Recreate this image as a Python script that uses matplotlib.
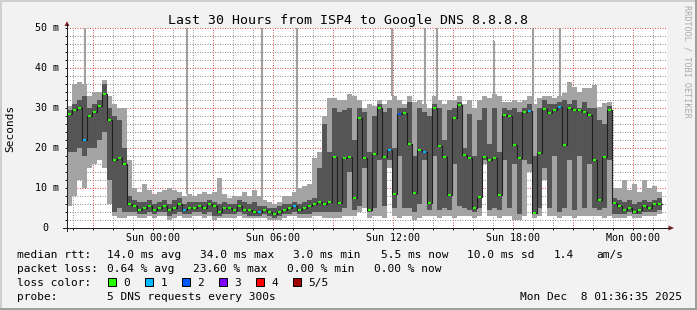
import numpy as np
import matplotlib
matplotlib.use('Agg')
import matplotlib.pyplot as plt
from matplotlib.patches import Rectangle, Polygon
from matplotlib.lines import Line2D

plt.rcParams['font.family'] = ['DejaVu Sans Mono']

W, H = 697, 310

# 15 minute steps, hours relative to Sun 00:00 (first step starts Sat 19:41)
t_start = -4.315
t_step = 0.25

# smoke: sorted pings per step (ms)
rtt_min = [
    5.5, 8, 12, 10, 15, 16, 17, 15, 6, 3,
    2.5, 2.5, 3, 3, 2.5, 2.5, 3, 2.5, 3, 3,
    2, 2.5, 3, 2.5, 2.5, 3, 3, 2.5, 3, 2,
    2.5, 2.5, 2.5, 2.5, 3, 2.5, 2.5, 2.5, 2.5, 2.5,
    2, 2, 2, 2.5, 3, 3, 2.5, 2.5, 2.5, 3,
    3, 2.5, 2.5, 2.5, 2.5, 3, 3, 3, 4, 5,
    2.5, 3, 3, 2.5, 15, 3, 2.5, 3, 3, 2,
    2.5, 3, 3, 3, 2.5, 3, 3, 2.5, 3, 3,
    3, 2.5, 3, 16, 3, 3, 2.5, 3, 3, 2,
    2, 3, 14, 2.5, 3, 12, 3, 3, 2.5, 3,
    3, 2.5, 3, 3, 3, 3, 3, 2.5, 3, 2.5,
    2.5, 2.5, 3, 2.5, 2.5, 3, 3, 3, 3.5]
rtt_q1 = [
    19, 19, 20, 18, 20, 20, 22, 24, 12, 4,
    5, 4, 4, 4, 3.5, 3.5, 4, 3.5, 4, 4,
    3, 3.5, 4, 3.5, 3.5, 4, 4, 3.5, 4, 3,
    3, 3.5, 3.5, 3.5, 4, 3.5, 3, 3, 3, 3.5,
    3, 2.5, 3, 3.5, 3.5, 4, 3.5, 3.5, 3.5, 4,
    4, 4, 4, 4, 4, 5, 14, 4.5, 5.5, 15,
    4, 5, 17, 5.5, 17, 5, 18, 5, 5, 4,
    6, 17, 4.5, 18, 4.5, 5, 4.5, 16, 5.5, 5,
    4.5, 4, 5, 17, 4.5, 5, 4.5, 17, 5, 16,
    3.5, 17, 16, 3.5, 5, 15, 5, 18, 4, 5,
    17, 4.5, 18, 5, 16, 5, 4.5, 5, 17, 3.5,
    3.5, 3.5, 4, 3.5, 3.5, 4, 4, 4, 4.5]
rtt_median = [
    28.5, 29.5, 30, 22, 28, 29, 30.5, 33.5, 27, 17,
    17.5, 16, 6, 5.5, 4.5, 5, 5.5, 4.5, 5, 5.5,
    4.5, 5, 6, 4.5, 5, 5, 5.5, 5, 6, 5.5,
    4, 5, 5, 4.5, 5.5, 4.5, 4.5, 4, 4, 4.5,
    4, 3.5, 4, 4.5, 5, 5.5, 4.5, 5, 5.5, 6,
    6.5, 6, 6.5, 17.8, 6.2, 17.4, 17.8, 7.4, 27.4, 17.5,
    4.5, 18.5, 30, 17.8, 19.5, 8.5, 28.5, 28.7, 21, 8.7,
    19.5, 19, 6.2, 30, 20.5, 17.8, 8.3, 27.4, 30.7, 18.3,
    17.4, 4.9, 7.8, 17.8, 17, 17.5, 8.3, 28.2, 28, 20.8,
    17.4, 29, 29.3, 3.7, 18.8, 29.7, 28.7, 29.5, 30.2, 20.8,
    30, 29.5, 29.5, 29, 28.2, 17, 7, 17.8, 29.5, 6.2,
    5.5, 4.5, 5, 4, 4.5, 5.5, 5, 6, 6]
rtt_q3 = [
    29.5, 31, 32, 33, 30, 31, 32, 36, 30, 28,
    27, 20, 8, 7, 6.5, 6.5, 7, 6, 6.5, 7,
    6, 7, 7.5, 6, 6.5, 6.5, 6.5, 6.5, 7, 6.5,
    6, 6.5, 6, 6, 7, 6.5, 6, 6.5, 5.5, 5.5,
    5, 5, 5.5, 6, 6, 6.5, 6, 6.5, 7, 7.5,
    15, 26, 19, 30, 29, 29.5, 30, 22, 30, 29,
    19, 28, 31, 29, 30, 20, 30, 30, 31.5, 18,
    30, 29, 28, 31, 30, 22, 29.5, 30, 31.5, 20,
    28.5, 18, 27, 30, 21, 30, 19, 30, 29.5, 30,
    29, 30, 31, 18, 30, 32, 31, 31, 31.5, 32,
    31, 32, 30, 31.5, 30, 30, 27, 26, 30.5, 7.5,
    7, 6.5, 7, 6, 6.5, 7, 6.5, 7, 7.5]
rtt_max = [
    30.5, 36, 36.5, 36, 33, 34, 34, 37, 33, 31,
    30, 30, 17, 10, 9, 11, 9.5, 8.5, 9, 9.5,
    10, 9.5, 9, 8, 8.5, 8, 8.5, 9, 8.5, 9,
    12.5, 8.5, 7.5, 8, 8, 9, 8, 9.5, 8, 7,
    6.5, 6, 6.5, 8, 8, 9, 10, 10.5, 11, 17.5,
    19, 28, 32.5, 32.5, 32, 32, 33.5, 33, 32, 30,
    31, 30.5, 32, 31, 32, 33, 32, 31, 33, 31.5,
    32, 31, 30, 33, 32, 31, 32, 32, 33, 31,
    32, 30, 32, 33, 32.5, 33.5, 33, 31.5, 31.5, 32,
    31.5, 32, 33, 31, 32.5, 33, 33, 32.5, 33, 33.7,
    36.5, 35.3, 34, 35, 35, 35.8, 30.3, 31.2, 31.6, 10,
    10, 12, 9.5, 11, 9, 12, 10, 10.5, 9]
# lost packets per step (out of 5)
loss = [
    0, 0, 0, 1, 0, 0, 0, 0, 0, 0,
    0, 0, 0, 0, 0, 0, 0, 0, 0, 0,
    0, 0, 0, 1, 0, 0, 0, 0, 0, 0,
    0, 0, 0, 0, 0, 0, 0, 0, 1, 0,
    0, 0, 0, 0, 0, 1, 0, 0, 0, 0,
    0, 0, 0, 0, 0, 0, 0, 0, 0, 0,
    0, 0, 0, 0, 1, 0, 2, 0, 0, 0,
    0, 1, 0, 0, 0, 0, 0, 0, 0, 0,
    0, 0, 0, 0, 0, 0, 0, 0, 0, 0,
    0, 0, 1, 0, 0, 0, 0, 0, 1, 0,
    0, 0, 0, 0, 0, 0, 0, 0, 0, 0,
    0, 0, 0, 0, 0, 0, 0, 0, 0]

# single slow pings (5 min samples), values above 50 ms are off the scale
spike_hours = [-3.44, 1.685, 5.45, 7.17, 11.95, 13.57, 14.185, 17.05, 18.965, 20.32]
spike_peak = [60, 60, 60, 60, 60, 60, 60, 46.7, 60, 60]

loss_colors = ['#26ff00', '#00b8ff', '#0059ff', '#7e00ff', '#ff0000', '#a10000']
loss_labels = ['0', '1', '2', '3', '4', '5/5']
ytick_vals = [0, 10, 20, 30, 40, 50]
ytick_text = ['0', '10 m', '20 m', '30 m', '40 m', '50 m']
xtick_hours = [0, 6, 12, 18, 24]
xtick_text = ['Sun 00:00', 'Sun 06:00', 'Sun 12:00', 'Sun 18:00', 'Mon 00:00']


def px(x, y):
    return x / W, 1 - y / H


def stepped(v):
    v = np.asarray(v, float)
    return np.append(v, v[-1])


n = len(rtt_median)
edges = t_start + t_step * np.arange(n + 1)

fig = plt.figure(figsize=(W / 100, H / 100), dpi=100, facecolor='#f2f2f2')
ax = fig.add_axes([67 / W, 1 - 228 / H, 600 / W, 200 / H])
ax.set_facecolor('white')
ax.set_xlim(t_start, t_start + 30)
ax.set_ylim(0, 50)
for s in ax.spines.values():
    s.set_visible(False)

ax.set_xticks(np.arange(-3, 26, 3))
ax.set_xticks(np.arange(-4, 26, 1), minor=True)
ax.set_yticks(np.arange(0, 51, 10))
ax.set_yticks(np.arange(0, 51, 2), minor=True)
ax.set_xticklabels([])
ax.set_yticklabels([])
ax.tick_params(which='both', direction='out', length=1.5, width=0.72, color='#1f1f1f')
ax.grid(which='minor', color=(0.56, 0.56, 0.56, 0.75), lw=0.72, ls=(0, (1, 1.5)))
ax.grid(which='major', color=(0.87, 0.31, 0.31, 0.6), lw=0.72, ls=(0, (1, 1.5)))
ax.set_axisbelow(True)

# smoke
ax.fill_between(edges, stepped(rtt_min), stepped(rtt_max), step='post',
                color='#a3a3a3', lw=0, zorder=2)
idx = ((np.array(spike_hours) - t_start) // t_step).astype(int)
ax.vlines(spike_hours, np.array(rtt_max)[idx], spike_peak, color='#a0a0a0', lw=1.5, zorder=2)
ax.fill_between(edges, stepped(rtt_q1), stepped(rtt_q3), step='post',
                color='#555555', lw=0, zorder=3)
# median
ax.step(edges, stepped(rtt_median), where='post', color='#202020', lw=0.8, zorder=4)
ax.hlines(rtt_median, edges[:-1] + 0.03, edges[1:] - 0.03,
          colors=[loss_colors[l] for l in loss], lw=1.5, zorder=5)

# tick labels
for v, s in zip(ytick_vals, ytick_text):
    if v == 0:
        ax.annotate(s, xy=(0, v), xycoords=('axes fraction', 'data'), xytext=(-22 * 0.72, -3.4 * 0.72),
                    textcoords='offset points', ha='center', va='baseline', fontsize=7.2)
    else:
        ax.annotate(s, xy=(0, v), xycoords=('axes fraction', 'data'), xytext=(-7.7 * 0.72, -3.4 * 0.72),
                    textcoords='offset points', ha='right', va='baseline', fontsize=7.2)
for h, s in zip(xtick_hours, xtick_text):
    ax.annotate(s, xy=(h, 0), xycoords=('data', 'axes fraction'), xytext=(0, -12.7 * 0.72),
                textcoords='offset points', ha='center', va='baseline', fontsize=7.2)

# axes with arrows
fig.add_artist(Line2D([px(67, 231)[0], px(67, 24)[0]], [px(67, 231)[1], px(67, 24)[1]],
                      transform=fig.transFigure, color='#1f1f1f', lw=0.72))
fig.add_artist(Line2D([px(63, 228)[0], px(670, 228)[0]], [px(63, 228)[1], px(670, 228)[1]],
                      transform=fig.transFigure, color='#1f1f1f', lw=0.72))
fig.add_artist(Polygon([px(64.5, 26), px(69.5, 26), px(67, 21.3)], closed=True,
                       transform=fig.transFigure, color='#801f1f', lw=0))
fig.add_artist(Polygon([px(668.5, 225.5), px(668.5, 230.5), px(674, 228)], closed=True,
                       transform=fig.transFigure, color='#801f1f', lw=0))

# texts
fig.text(*px(347.5, 24), 'Last 30 Hours from ISP4 to Google DNS 8.8.8.8',
         ha='center', va='baseline', fontsize=9.5)
fig.text(*px(10.5, 128), 'Seconds', rotation=90, ha='center', va='center', fontsize=8)
fig.text(*px(687.5, 61.5), 'RRDTOOL / TOBI OETIKER', rotation=270, ha='center', va='center',
         fontsize=6.1, color='#aaaaaa')

fs = 8
rows = [
    (258, [(16.7, 'median rtt:'), (107.3, '14.0 ms avg'), (200, '34.0 ms max'),
           (293.3, '3.0 ms min'), (380.8, '5.5 ms now'), (467, '10.0 ms sd'),
           (553.6, '1.4'), (596, 'am/s')]),
    (272, [(16.7, 'packet loss:'), (107.3, '0.64 % avg'), (193.3, '23.60 % max'),
           (286.7, '0.00 % min'), (373.6, '0.00 % now')]),
    (285.7, [(16.7, 'loss color:')]),
    (300, [(16.7, 'probe:'), (107.3, '5 DNS requests every 300s')]),
]
for yb, items in rows:
    for x, s in items:
        fig.text(*px(x, yb), s, ha='left', va='baseline', fontsize=fs)
fig.text(*px(682, 300), 'Mon Dec  8 01:36:35 2025', ha='right', va='baseline', fontsize=fs)

for i, (c, lab) in enumerate(zip(loss_colors, loss_labels)):
    bx = 108.3 + 37 * i
    fig.add_artist(Rectangle(px(bx, 286.3), 7.5 / W, 8 / H, transform=fig.transFigure,
                             facecolor=c, edgecolor='black', lw=0.72))
    fig.text(*px(bx + 15, 285.7), lab, ha='left', va='baseline', fontsize=fs)

# 3d frame
fig.add_artist(Rectangle((0, 1 - 2 / H), 1, 2 / H, transform=fig.transFigure, color='#cfcfcf', lw=0))
fig.add_artist(Rectangle((0, 0), 2 / W, 1, transform=fig.transFigure, color='#cfcfcf', lw=0))
fig.add_artist(Rectangle((0, 0), 1, 2 / H, transform=fig.transFigure, color='#9e9e9e', lw=0))
fig.add_artist(Rectangle((1 - 2 / W, 0), 2 / W, 1, transform=fig.transFigure, color='#9e9e9e', lw=0))

fig.savefig('out.png', dpi=100, facecolor=fig.get_facecolor())
